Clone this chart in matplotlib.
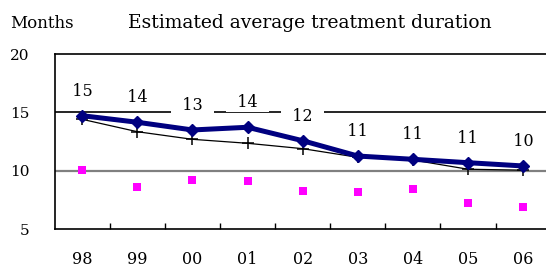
import numpy as np
import matplotlib
matplotlib.use("Agg")
import matplotlib.pyplot as plt

# ---- data ----
years = ["98", "99", "00", "01", "02", "03", "04", "05", "06"]
estimated = [14.72, 14.16, 13.50, 13.73, 12.58, 11.27, 10.99, 10.70, 10.42]
cross_series = [14.41, 13.35, 12.70, 12.36, 11.90, 11.16, 10.93, 10.14, 10.06]
square_series = [10.05, 8.65, 9.22, 9.14, 8.31, 8.17, 8.45, 7.28, 6.89]
point_labels = [15, 14, 13, 14, 12, 11, 11, 11, 10]
y_ticks = [5, 10, 15, 20]

plt.rcParams["font.family"] = "DejaVu Serif"

fig = plt.figure(figsize=(5.46, 2.70), dpi=100)
# plot area runs past the right edge of the picture, like the original
ax = fig.add_axes([54.7 / 546, 40.7 / 270, 495.9 / 546, 175.3 / 270])

x = np.arange(len(years))

# reference lines: 15 black, 10 grey
ax.axhline(15, color="black", linewidth=1.2, zorder=1)
ax.axhline(10, color="#808080", linewidth=1.6, zorder=1)

ax.plot(x, cross_series, color="black", linewidth=0.9, marker="+",
        markersize=9, markeredgewidth=1.1, zorder=3)
ax.plot(x, estimated, color="#000080", linewidth=3.6, marker="D",
        markersize=6.5, zorder=4)
ax.plot(x, square_series, linestyle="none", marker="s", color="#ff00ff",
        markersize=5.5, markeredgewidth=0, zorder=3)

for xi, yi, lab in zip(x, estimated, point_labels):
    ax.annotate(f"  {lab}  ", (xi, yi), xytext=(0, 17.5),
                textcoords="offset points", ha="center", va="center",
                fontsize=11.5, zorder=2,
                bbox=dict(boxstyle="square,pad=0.05", fc="white", ec="none"))

ax.set_xlim(-0.5, len(years) - 0.5)
ax.set_ylim(5, 20)
ax.set_yticks(y_ticks)
ax.set_xticks(x)
ax.set_xticklabels(years)
ax.set_xticks(x[:-1] + 0.5, minor=True)

ax.tick_params(axis="y", length=0, pad=18, labelsize=11)
ax.tick_params(axis="x", which="major", length=0, pad=15.5, labelsize=11.5)
ax.tick_params(axis="x", which="minor", direction="in", length=4.3,
               width=1, color="black")

for side in ["left", "bottom", "top"]:
    ax.spines[side].set_color("black")
    ax.spines[side].set_linewidth(1.2)
ax.spines["right"].set_visible(False)

fig.text(10.4 / 546, 1 - 27.5 / 270, "Months", fontsize=12, va="baseline")
fig.text(128 / 546, 1 - 27.5 / 270, "Estimated average treatment duration",
         fontsize=13.5, va="baseline")

fig.savefig("out.png", dpi=100)
